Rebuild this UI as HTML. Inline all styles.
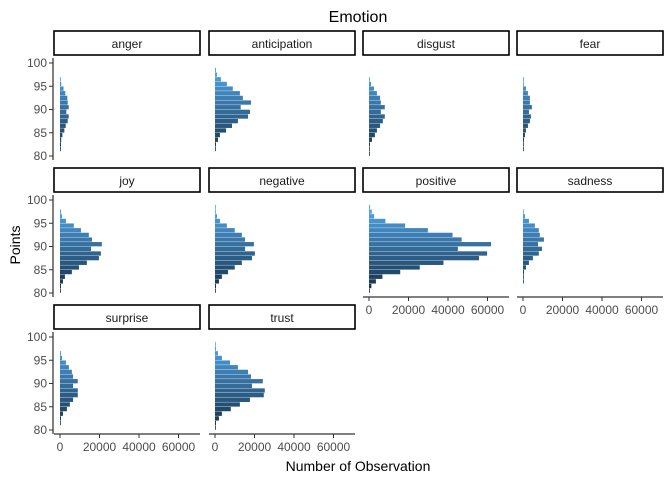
<!DOCTYPE html>
<html><head><meta charset="utf-8"><style>
body{margin:0;background:#fff;font-family:"Liberation Sans",sans-serif;}
svg text{font-family:"Liberation Sans",sans-serif;}
</style></head><body>
<svg id="c" width="672" height="480" xmlns="http://www.w3.org/2000/svg">
<text x="358" y="22" text-anchor="middle" font-size="16" fill="#000">Emotion</text>
<text x="358" y="471" text-anchor="middle" font-size="14" fill="#000">Number of Observation</text>
<text transform="translate(20,245) rotate(-90)" text-anchor="middle" font-size="14" fill="#000">Points</text>
</svg>
<script>
const panels=["anger","anticipation","disgust","fear","joy","negative","positive","sadness","surprise","trust"];
// counts (thousands) per 1-point bin, top-down: bin 98-99 first down to 80-81
const anger=[0,0,0.2,0.6,1.8,2.7,3.7,3.9,4.4,3.2,4.4,3.9,2.9,2.2,1.2,0.6,0.5,0.3,0];
const anticipation=[0.5,1,3,6,9,12.6,14.1,18.2,13,17.7,16.7,11.6,8.6,5.6,2.5,1.5,0.5,0.2,0];
const disgust=[0,0,0.3,1,2.5,4,5.6,6,8,6,8,7,5.6,4,3,1.5,0.5,0.3,0.2];
const fear=[0,0,0.2,0.3,1.5,2.5,3.5,3.5,4.5,3,4,3.5,2.5,1.5,1,0.5,0.3,0.2,0];
const joy=[0,0.5,1,3,7,10.6,14.6,16.2,21.2,15.7,20.7,19.7,13.6,9.6,6,2.5,1.5,0.5,0.2];
const negative=[0.3,0.3,1,2.5,6,10,13.6,15.2,19.7,15.2,20.2,18.7,13.6,10,6.6,3.5,2,0.5,0.2];
const positive=[0.5,1.4,2.6,8.3,18.3,29.8,42.3,46.9,61.8,45,59.8,55.7,37.7,25.7,15.8,6.8,3.5,1.2,0.4];
const sadness=[0,0.2,1,3,6,8,8.5,10.6,7.6,9.6,8,5,3,1.5,0.5,0.3,0.2,0,0];
const surprise=[0,0,0.5,1,3,4.5,6,6.6,9,6.6,9,9,6.6,5,3.5,1.5,0.5,0.2,0];
const trust=[0.3,0.5,1.5,3.5,7.6,11.6,16.7,18.2,24.2,18.7,25.2,24.7,17.7,12.6,8,3.5,2,0.5,0.3];
const xTicks=[0,20000,40000,60000];
const yTicks=[80,85,90,95,100];
const series={anger,anticipation,disgust,fear,joy,negative,positive,sadness,surprise,trust};
const NS="http://www.w3.org/2000/svg";
const svg=document.getElementById('c');
function mk(t,a,p){const e=document.createElementNS(NS,t);for(const k in a)e.setAttribute(k,a[k]);(p||svg).appendChild(e);return e;}
const colX=[54,209,363,517], PW=146, stripTop=[31,168,305];
const xmin=-3040, pxPerUnit=1.975/1000;
function xs(col,v){return colX[col]+(v-xmin)*pxPerUnit;}
function ys(row,p){return stripTop[row]+32+(100-p)*4.65;}
function col(p){const t=Math.max(0,Math.min(1,(p-80)/20));const a=[19,43,67],b=[86,177,247];return `rgb(${a.map((v,i)=>Math.round(v+(b[i]-v)*t)).join(',')})`;}
const bottomPanels=["positive","sadness","surprise","trust"];
panels.forEach((name,i)=>{
  const r=Math.floor(i/4), c=i%4;
  const g=mk('g',{});
  
  
  const st=mk('rect',{x:colX[c],y:stripTop[r],width:PW,height:24,fill:'#fff',stroke:'#000','stroke-width':1.6},g);
  
  
  const tx=mk('text',{x:colX[c]+PW/2,y:stripTop[r]+17,'text-anchor':'middle','font-size':12,fill:'#1a1a1a'},g);
  tx.textContent=name;
  
  
  series[name].forEach((v,k)=>{
    if(v<=0)return;
    const hi=99-k, lo=hi-1;
    const b=mk('rect',{x:xs(c,0),y:ys(r,hi)+0.2,width:Math.max(0.8,xs(c,v*1000)-xs(c,0)),height:4.3,fill:col((hi+lo)/2)},g);
    
    
  });
  if(c===0){
    const ax=mk('line',{x1:53,x2:53,y1:stripTop[r]+27,y2:stripTop[r]+129,stroke:'#000','stroke-width':1},g);
    
    
    yTicks.forEach(t=>{
      mk('line',{x1:49,x2:53,y1:ys(r,t),y2:ys(r,t),stroke:'#333'},g);
      const l=mk('text',{x:47,y:ys(r,t)+4,'text-anchor':'end','font-size':12,fill:'#4d4d4d'},g);
      l.textContent=t;
      
      
    });
  }
  if(bottomPanels.includes(name)){
    const yb=stripTop[r]+129;
    const ax=mk('line',{x1:colX[c],x2:colX[c]+PW,y1:yb,y2:yb,stroke:'#000','stroke-width':1},g);
    
    
    xTicks.forEach(t=>{
      mk('line',{x1:xs(c,t),x2:xs(c,t),y1:yb,y2:yb+4,stroke:'#333'},g);
      const l=mk('text',{x:xs(c,t),y:yb+17,'text-anchor':'middle','font-size':12,fill:'#4d4d4d'},g);
      l.textContent=t;
      
      
    });
  }
});
</script>
</body></html>
